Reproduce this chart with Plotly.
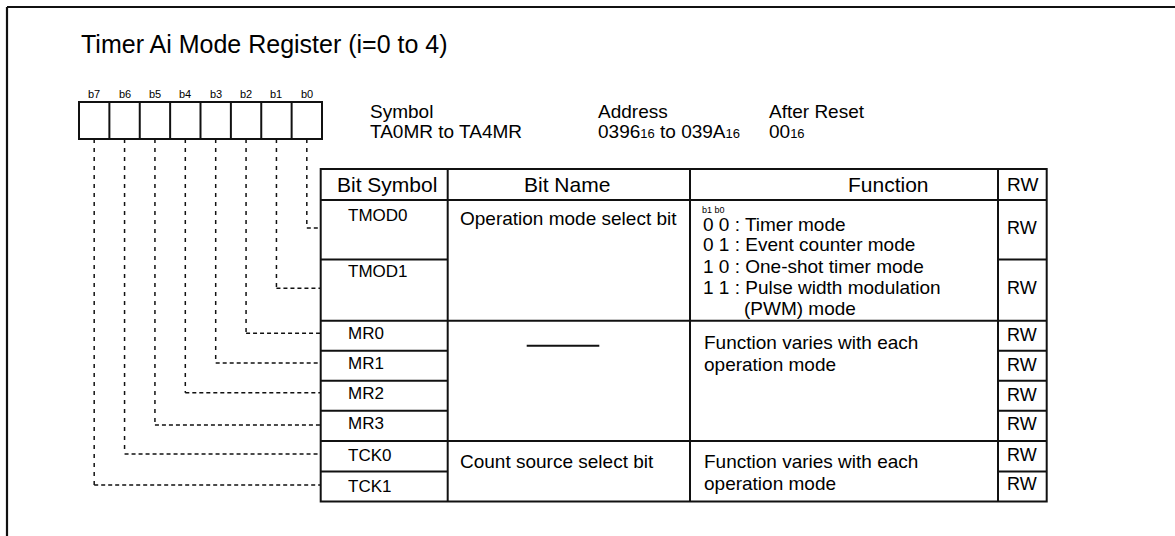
import plotly.graph_objects as go

# ---------------- data ----------------
title_text = "Timer Ai Mode Register (i=0 to 4)"
bit_labels = ["b7", "b6", "b5", "b4", "b3", "b2", "b1", "b0"]
bit_symbols = ["TMOD0", "TMOD1", "MR0", "MR1", "MR2", "MR3", "TCK0", "TCK1"]
rw_values = ["RW", "RW", "RW", "RW", "RW", "RW", "RW", "RW"]
header_cols = ["Bit Symbol", "Bit Name", "Function", "RW"]
group_names = ["Operation mode select bit", None, "Count source select bit"]
group_rows = [(0, 2), (2, 6), (6, 8)]
mode_lines = ["0 0 : Timer mode", "0 1 : Event counter mode",
              "1 0 : One-shot timer mode", "1 1 : Pulse width modulation",
              "(PWM) mode"]
varies_lines = ["Function varies with each", "operation mode"]
info_labels = ["Symbol", "Address", "After Reset"]
SUB = "<span style='font-size:13px'>16</span>"
info_values = ["TA0MR to TA4MR", "0396" + SUB + " to 039A" + SUB, "00" + SUB]

# ---------------- layout geometry ----------------
W, H = 1175, 536
FONT = "Liberation Sans, Arial, sans-serif"
reg_x0, reg_x1, reg_y0, reg_y1 = 79, 322, 102, 139
col_x = [320.7, 447.7, 690, 998, 1046.7]
row_y = [169, 200, 259.5, 320.7, 350.7, 380.7, 410.7, 441, 471.5, 501.5]
link_y = [228, 288.3, 333.3, 363, 392.7, 425, 454, 485]
sym_text_y = [215, 271, 333.5, 363.5, 393.5, 423.5, 455.5, 486]
rw_text_y = [228, 287.5, 335, 365, 395, 423.5, 455, 484]
hdr_x = [386.5, 567, 888, 1022.3]
hdr_size = [21, 21, 21, 19]

shapes = []
annotations = []


def line(x0, y0, x1, y1, width=2, dash=None, color="#111"):
    d = dict(type="line", xref="x", yref="y", x0=x0, y0=y0, x1=x1, y1=y1,
             line=dict(color=color, width=width))
    if dash:
        d["line"]["dash"] = dash
    shapes.append(d)


def text(x, y, s, size, anchor="left"):
    annotations.append(dict(x=x, y=y, xref="x", yref="y", text=s, showarrow=False,
                            xanchor=anchor, yanchor="middle",
                            font=dict(family=FONT, size=size, color="#000")))


# outer frame (only top and left edges are inside the picture)
line(7, 7, W + 5, 7, width=2.2)
line(7, 7, 7, H + 5, width=2.2)

# title
text(79, 44, title_text, 25)

# register boxes
cw = (reg_x1 - reg_x0) / len(bit_labels)
shapes.append(dict(type="rect", xref="x", yref="y", x0=reg_x0, y0=reg_y0, x1=reg_x1, y1=reg_y1,
                   line=dict(color="#111", width=2)))
for i, lab in enumerate(bit_labels):
    cx = reg_x0 + cw * (i + 0.5)
    if i > 0:
        line(reg_x0 + cw * i, reg_y0, reg_x0 + cw * i, reg_y1)
    text(cx, 94, lab, 11, "center")
    # link from bit to its row (b0 -> row 0, ..., b7 -> row 7)
    r = len(bit_labels) - 1 - i
    line(cx, reg_y1, cx, link_y[r], width=1.5, dash="4px,5px")
    line(cx, link_y[r], col_x[0], link_y[r], width=1.5, dash="4px,3px")

# info block
info_x = [368, 596, 767]
for lab, val, x in zip(info_labels, info_values, info_x):
    text(x, 111, lab, 19)
    text(x, 131, val, 19)

# table frame
shapes.append(dict(type="rect", xref="x", yref="y", x0=col_x[0], y0=row_y[0], x1=col_x[-1], y1=row_y[-1],
                   line=dict(color="#111", width=2)))
for x in col_x[1:-1]:
    line(x, row_y[0], x, row_y[-1])
line(col_x[0], row_y[1], col_x[-1], row_y[1])
# header
for s, x, fs in zip(header_cols, hdr_x, hdr_size):
    text(x, 184.5, s, fs, "center")
# per-row dividers in Bit Symbol and RW columns
for k in range(2, len(row_y) - 1):
    line(col_x[0], row_y[k], col_x[1], row_y[k], width=2)
    line(col_x[3], row_y[k], col_x[4], row_y[k], width=2)
# group dividers in Bit Name / Function columns
for (a, b) in group_rows[:-1]:
    line(col_x[1], row_y[1 + b], col_x[3], row_y[1 + b])

for s, y in zip(bit_symbols, sym_text_y):
    text(345.5, y, s, 17)
for s, y in zip(rw_values, rw_text_y):
    text((col_x[3] + col_x[4]) / 2, y, s, 18, "center")

# bit names
text(457.5, 218, group_names[0], 19)
line(526.7, 345.7, 599.3, 345.7, width=2)
text(457.5, 461, group_names[2], 19)

# functions
text(700, 210, "b1 b0", 9)
mode_y = [224, 244.5, 266, 287.5, 308]
for i, (s, y) in enumerate(zip(mode_lines, mode_y)):
    text(741.5 if i == len(mode_lines) - 1 else 700.5, y, s, 19)
for y0 in (342, 461):
    for j, s in enumerate(varies_lines):
        text(701.5, y0 + j * 22, s, 19)

fig = go.Figure()
fig.update_layout(width=W, height=H, autosize=False,
                  margin=dict(l=0, r=0, t=0, b=0),
                  paper_bgcolor="white", plot_bgcolor="white",
                  xaxis=dict(range=[0, W], visible=False, fixedrange=True),
                  yaxis=dict(range=[H, 0], visible=False, fixedrange=True),
                  shapes=shapes, annotations=annotations, showlegend=False)
fig.write_html("out.html", config={"displayModeBar": False},
               post_script="document.body.style.margin='0';document.body.style.overflow='hidden';")
